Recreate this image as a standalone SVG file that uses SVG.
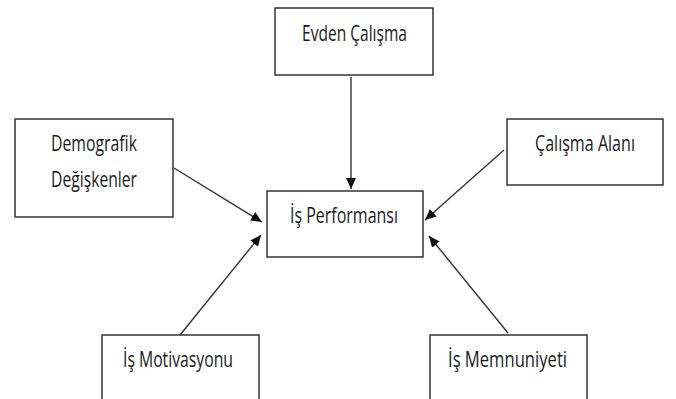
<svg xmlns="http://www.w3.org/2000/svg" width="676" height="399" viewBox="0 0 676 399">
<style>
.box{fill:#ffffff;stroke:#262626;stroke-width:1.4}
.lbl{font-family:"Open Sans","Noto Sans","Liberation Sans",sans-serif;font-size:21px;fill:#1a1a1a}
.edge{stroke:#333333;stroke-width:1.4;fill:none;marker-end:url(#ah)}
</style>
<defs>
<marker id="ah" viewBox="0 0 10 10" refX="10" refY="5" markerWidth="11" markerHeight="11" markerUnits="userSpaceOnUse" orient="auto">
<path d="M0,0.5 L10,5 L0,9.5 Z" fill="#111111"/>
</marker>
</defs>
<rect width="676" height="399" fill="#ffffff"/>
<g id="connectors">
<line class="edge" x1="351" y1="77" x2="351" y2="189"/>
<line class="edge" x1="174" y1="168" x2="262" y2="222"/>
<line class="edge" x1="504" y1="150" x2="425" y2="220"/>
<line class="edge" x1="180" y1="335" x2="261" y2="235"/>
<line class="edge" x1="508" y1="333" x2="429" y2="236"/>
</g>
<g id="evden">
<rect class="box" x="275" y="8" width="158" height="67"/>
<text class="lbl" x="302" y="41" textLength="105" lengthAdjust="spacingAndGlyphs">Evden Çalışma</text>
</g>
<g id="demografik">
<rect class="box" x="15" y="119" width="158" height="98"/>
<text class="lbl" x="51" y="151" textLength="86" lengthAdjust="spacingAndGlyphs">Demografik</text>
<text class="lbl" x="51" y="187" textLength="86" lengthAdjust="spacingAndGlyphs">Değişkenler</text>
</g>
<g id="performans">
<rect class="box" x="267" y="191" width="156" height="66"/>
<text class="lbl" x="290" y="223" textLength="108" lengthAdjust="spacingAndGlyphs">İş Performansı</text>
</g>
<g id="calisma-alani">
<rect class="box" x="507" y="119" width="156" height="66"/>
<text class="lbl" x="535" y="151" textLength="100" lengthAdjust="spacingAndGlyphs">Çalışma Alanı</text>
</g>
<g id="motivasyon">
<rect class="box" x="102" y="335" width="157" height="80"/>
<text class="lbl" x="123" y="367" textLength="110" lengthAdjust="spacingAndGlyphs">İş Motivasyonu</text>
</g>
<g id="memnuniyet">
<rect class="box" x="430" y="335" width="157" height="80"/>
<text class="lbl" x="448" y="367" textLength="119" lengthAdjust="spacingAndGlyphs">İş Memnuniyeti</text>
</g>
</svg>
